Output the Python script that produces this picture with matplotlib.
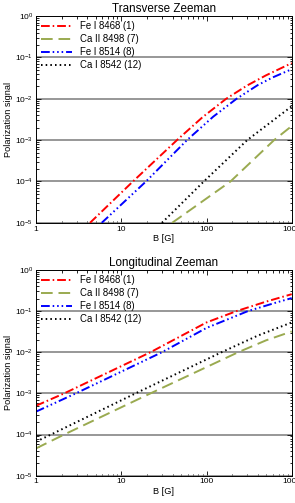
import numpy as np
import matplotlib
matplotlib.use('Agg')
import matplotlib.pyplot as plt
from matplotlib.ticker import NullFormatter, LogLocator

plt.rcParams['font.family'] = ['Liberation Sans', 'DejaVu Sans']

labels = ['Fe I 8468 (1)', 'Ca II 8498 (7)', 'Fe I 8514 (8)', 'Ca I 8542 (12)']
colors = ['#ff0000', '#9aaa50', '#0000ff', '#000000']
styles = [(0, (4.5, 1.5, 0.8, 1.5)),
          (0, (6, 3)),
          (0, (4.5, 1.5, 0.8, 1.5, 0.8, 1.5, 0.8, 1.5)),
          (0, (0.8, 1.6))]

# Transverse Zeeman
tr_fe8468_b = [4.3, 13.7, 45, 90, 170, 300, 500, 1000]
tr_fe8468_p = [1e-5, 1e-4, 1e-3, 3.6e-3, 1e-2, 0.021, 0.037, 0.073]
tr_ca8498_b = [39.5, 191, 620, 1000]
tr_ca8498_p = [1e-5, 1e-4, 1e-3, 2.2e-3]
tr_fe8514_b = [5.9, 19.5, 59, 120, 225, 400, 600, 1000]
tr_fe8514_p = [1e-5, 1e-4, 1e-3, 3.7e-3, 1e-2, 0.0215, 0.033, 0.052]
tr_ca8542_b = [30, 93, 300, 1000]
tr_ca8542_p = [1e-5, 1e-4, 1e-3, 6.6e-3]

# Longitudinal Zeeman
lo_fe8468_b = [1, 2.14, 22, 100, 225, 500, 1000]
lo_fe8468_p = [5e-4, 1e-3, 1e-2, 0.053, 0.1, 0.17, 0.258]
lo_ca8498_b = [1, 2.14, 22, 235, 500, 1000]
lo_ca8498_p = [4.6e-5, 1e-4, 1e-3, 1e-2, 0.0195, 0.032]
lo_fe8514_b = [1, 2.93, 30, 100, 306, 680, 1000]
lo_fe8514_p = [3.6e-4, 1e-3, 1e-2, 0.039, 0.1, 0.165, 0.207]
lo_ca8542_b = [1, 1.5, 14.7, 150, 400, 1000]
lo_ca8542_p = [6.7e-5, 1e-4, 1e-3, 1e-2, 0.0254, 0.053]

transverse = [(tr_fe8468_b, tr_fe8468_p), (tr_ca8498_b, tr_ca8498_p),
              (tr_fe8514_b, tr_fe8514_p), (tr_ca8542_b, tr_ca8542_p)]
longitudinal = [(lo_fe8468_b, lo_fe8468_p), (lo_ca8498_b, lo_ca8498_p),
                (lo_fe8514_b, lo_fe8514_p), (lo_ca8542_b, lo_ca8542_p)]

fig = plt.figure(figsize=(2.95, 5.03), dpi=100)
ax1 = fig.add_axes([0.122, 0.557, 0.867, 0.411])
ax2 = fig.add_axes([0.122, 0.0543, 0.867, 0.409])


def draw(ax, data, title):
    for (b, p), lab, c, ls in zip(data, labels, colors, styles):
        ax.plot(b, p, color=c, linestyle=ls, lw=1.4, label=lab)
    ax.set_xscale('log')
    ax.set_yscale('log')
    ax.set_xlim(1, 1000)
    ax.set_ylim(1e-5, 1)
    ax.set_xticks([1, 10, 100, 1000], labels=['1', '10', '100', '1000'])
    ax.xaxis.set_minor_locator(LogLocator(base=10, subs=np.arange(2, 10)))
    ax.yaxis.set_major_locator(LogLocator(base=10, numticks=10))
    ax.yaxis.set_minor_locator(LogLocator(base=10, subs=np.arange(2, 10), numticks=10))
    ax.xaxis.set_minor_formatter(NullFormatter())
    ax.yaxis.set_minor_formatter(NullFormatter())
    ax.tick_params(which='both', direction='in', top=True, right=True,
                   labelsize=6, pad=2, width=0.6)
    ax.tick_params(which='major', length=3.5)
    ax.tick_params(which='minor', length=1.8)
    ax.yaxis.grid(True, which='major', color='#7a7a7a', lw=1.1)
    for s in ax.spines.values():
        s.set_linewidth(0.7)
    ax.set_title(title, fontsize=8.4, pad=3)
    ax.set_xlabel('B [G]', fontsize=6.6, labelpad=1)
    ax.set_ylabel('Polarization signal', fontsize=6.6, labelpad=1.5)
    ax.legend(loc='upper left', frameon=False, fontsize=6.9, handlelength=3.2,
              borderaxespad=0.3, borderpad=0.25, labelspacing=0.3,
              handletextpad=0.8)


draw(ax1, transverse, 'Transverse Zeeman')
draw(ax2, longitudinal, 'Longitudinal Zeeman')

fig.savefig('out.png', dpi=100)
